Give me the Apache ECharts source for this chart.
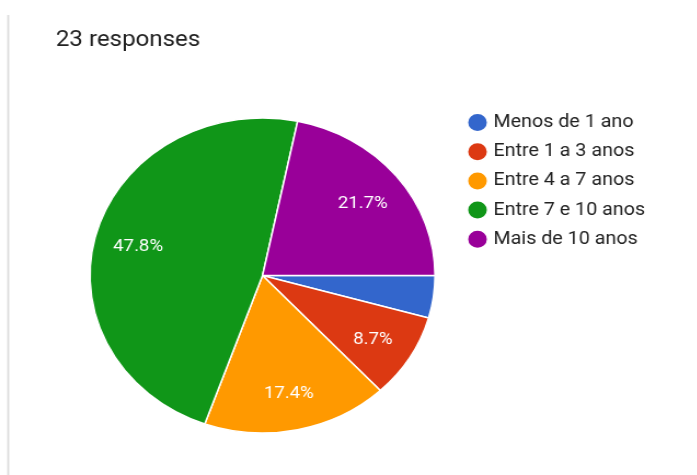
<!DOCTYPE html>
<html>
<head>
<meta charset="utf-8">
<title>23 responses</title>
<script src="https://cdn.jsdelivr.net/npm/echarts@6/dist/echarts.min.js"></script>
<style>
  html, body { margin: 0; padding: 0; background: #fff; overflow: hidden; }
  #stage { width: 697px; height: 475px; overflow: hidden; position: relative; }
  /* the chart is laid out in a narrower box and stretched horizontally */
  #chart { width: 636px; height: 475px; transform: scaleX(1.0952); transform-origin: 0 0; }
</style>
</head>
<body>
<div id="stage"><div id="chart"></div></div>
<script>
const titleText = '23 responses';
const categories = ['Menos de 1 ano', 'Entre 1 a 3 anos', 'Entre 4 a 7 anos', 'Entre 7 e 10 anos', 'Mais de 10 anos'];
const counts = [1, 2, 4, 11, 5];
const sliceColors = ['#3366cc', '#dc3912', '#ff9900', '#109618', '#990099'];

const total = counts.reduce((a, b) => a + b, 0);
const pieData = categories.map((name, i) => ({
  name: name,
  value: counts[i],
  itemStyle: { color: sliceColors[i] }
}));

const chart = echarts.init(document.getElementById('chart'), null, { renderer: 'canvas' });

const center = [239.7, 275.5];
const outer = 157.5;

chart.setOption({
  animation: false,
  textStyle: { fontFamily: 'Roboto, "Noto Sans", sans-serif' },
  title: {
    text: titleText,
    left: 46,
    top: 24,
    textStyle: { fontSize: 22, fontWeight: 'normal', color: '#212121', fontFamily: 'Roboto' }
  },
  graphic: [{
    type: 'rect',
    shape: { x: 6.6, y: 15, width: 1.8, height: 470 },
    style: { fill: '#dcdcdc' },
    silent: true
  }],
  legend: {
    orient: 'vertical',
    left: 425.5,
    top: 112,
    padding: 0,
    data: categories,
    icon: 'circle',
    itemWidth: 19,
    itemHeight: 19,
    itemGap: 8.2,
    selectedMode: false,
    textStyle: { fontSize: 18, color: '#222', fontFamily: 'Roboto', lineHeight: 19 }
  },
  series: [
    {
      // colored slices
      type: 'pie',
      center: center,
      radius: [0, outer],
      startAngle: 0,
      clockwise: true,
      data: pieData,
      label: { show: false },
      labelLine: { show: false },
      itemStyle: { borderColor: '#ffffff', borderWidth: 1.5 },
      emphasis: { disabled: true }
    },
    {
      // transparent ring carrying the percentage labels
      type: 'pie',
      center: center,
      radius: [72.5, outer],
      startAngle: 0,
      clockwise: true,
      silent: true,
      minShowLabelAngle: 20,
      data: categories.map((name, i) => ({ name: name, value: counts[i] })),
      itemStyle: { color: 'rgba(0,0,0,0)', borderWidth: 0 },
      label: {
        show: true,
        position: 'inside',
        color: '#ffffff',
        fontSize: 17,
        fontFamily: 'Roboto',
        offset: [0, 3],
        formatter: p => (p.value / total * 100).toFixed(1) + '%'
      },
      labelLine: { show: false },
      emphasis: { disabled: true }
    }
  ]
});
</script>
</body>
</html>
